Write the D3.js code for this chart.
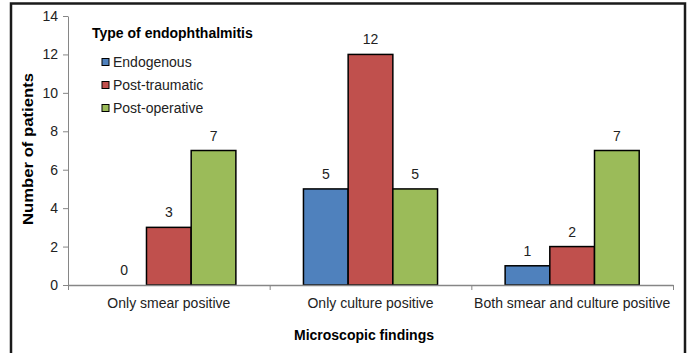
<!DOCTYPE html>
<html>
<head>
<meta charset="utf-8">
<script src="https://cdn.jsdelivr.net/npm/d3@7"></script>
<style>
  body { margin: 0; background: #fff; }
  svg { display: block; font-family: "Liberation Sans", Arial, sans-serif; }
</style>
</head>
<body>
<div id="chart"></div>
<script>
// data
var categories = ["Only smear positive", "Only culture positive", "Both smear and culture positive"];
var seriesNames = ["Endogenous", "Post-traumatic", "Post-operative"];
var endogenous = [0, 5, 1];
var postTraumatic = [3, 12, 2];
var postOperative = [7, 5, 7];
var yTicks = [0, 2, 4, 6, 8, 10, 12, 14];
var colors = ["#4f81bd", "#c0504d", "#9bbb59"];

var W = 691, H = 353;
var plot = {left: 68, right: 673, top: 16, bottom: 285};

var svg = d3.select("#chart").append("svg")
  .attr("width", W)
  .attr("height", H);

// outer frame (bottom edge is cut off in the original)
svg.append("rect")
  .attr("x", 11).attr("y", 3.5)
  .attr("width", 674).attr("height", 380)
  .attr("fill", "none")
  .attr("stroke", "#1a1a1a")
  .attr("stroke-width", 2.5);

var y = d3.scaleLinear().domain([0, 14]).range([plot.bottom, plot.top]);

var x0 = d3.scaleBand()
  .domain(categories)
  .range([plot.left, plot.right])
  .padding(0);

var x1 = d3.scaleBand()
  .domain(seriesNames)
  .range([0, x0.bandwidth()])
  .paddingInner(0)
  .paddingOuter(0.756);

var rows = categories.map(function(c, i) {
  return {cat: c, vals: [endogenous[i], postTraumatic[i], postOperative[i]]};
});

// y axis
var yAxis = svg.append("g")
  .attr("transform", "translate(" + plot.left + ",0)")
  .call(d3.axisLeft(y).tickValues(yTicks).tickSize(5).tickSizeOuter(0).tickPadding(5));
yAxis.select(".domain").attr("stroke", "#868686");
yAxis.selectAll(".tick line").attr("stroke", "#868686");
yAxis.selectAll(".tick text").attr("font-size", 14).attr("fill", "#222")
  .attr("font-family", "'Liberation Sans', Arial, sans-serif");

// bars
var groups = svg.selectAll("g.cat")
  .data(rows)
  .join("g")
  .attr("class", "cat")
  .attr("transform", d => "translate(" + x0(d.cat) + ",0)");

groups.selectAll("rect")
  .data(d => d.vals.map((v, i) => ({name: seriesNames[i], v: v, i: i})))
  .join("rect")
  .filter(d => d.v > 0)
  .attr("x", d => x1(d.name))
  .attr("y", d => y(d.v))
  .attr("width", x1.bandwidth())
  .attr("height", d => y(0) - y(d.v))
  .attr("fill", d => colors[d.i])
  .attr("stroke", "#000")
  .attr("stroke-width", 1.5);

groups.selectAll("text.val")
  .data(d => d.vals.map((v, i) => ({name: seriesNames[i], v: v, i: i})))
  .join("text")
  .attr("class", "val")
  .attr("x", d => x1(d.name) + x1.bandwidth() / 2)
  .attr("y", d => y(d.v) - 10)
  .attr("text-anchor", "middle")
  .attr("font-size", 14)
  .attr("fill", "#222")
  .text(d => d.v);

// x axis: ticks on category boundaries, labels at centers
var xb = d3.scaleLinear().domain([0, categories.length]).range([plot.left, plot.right]);
var xAxis = svg.append("g")
  .attr("transform", "translate(0," + plot.bottom + ")")
  .call(d3.axisBottom(xb).tickValues(d3.range(categories.length + 1)).tickSize(5).tickSizeOuter(0).tickFormat(""));
xAxis.select(".domain").attr("stroke", "#868686").attr("stroke-width", 1.5);
xAxis.selectAll(".tick line").attr("stroke", "#868686");

var xLabels = svg.append("g")
  .attr("transform", "translate(0," + plot.bottom + ")")
  .call(d3.axisBottom(x0).tickSize(0).tickPadding(13));
xLabels.select(".domain").remove();
xLabels.selectAll(".tick text").attr("font-size", 14).attr("fill", "#222")
  .attr("font-family", "'Liberation Sans', Arial, sans-serif");

// axis titles
svg.append("text")
  .attr("x", 364).attr("y", 340)
  .attr("text-anchor", "middle")
  .attr("font-size", 14).attr("font-weight", "bold")
  .text("Microscopic findings");

svg.append("text")
  .attr("transform", "translate(33,149) rotate(-90)")
  .attr("text-anchor", "middle")
  .attr("font-size", 14).attr("font-weight", "bold")
  .attr("textLength", 152).attr("lengthAdjust", "spacingAndGlyphs")
  .text("Number of patients");

// legend
var legend = svg.append("g").attr("transform", "translate(92,0)");
legend.append("text")
  .attr("x", 0).attr("y", 38)
  .attr("font-size", 14).attr("font-weight", "bold")
  .text("Type of endophthalmitis");

var items = legend.selectAll("g.item")
  .data(seriesNames)
  .join("g")
  .attr("class", "item")
  .attr("transform", (d, i) => "translate(0," + (62 + i * 23) + ")");
items.append("rect")
  .attr("x", 10).attr("y", -3.5)
  .attr("width", 7).attr("height", 7)
  .attr("fill", (d, i) => colors[i])
  .attr("stroke", "#000").attr("stroke-width", 1);
items.append("text")
  .attr("x", 21).attr("y", 5)
  .attr("font-size", 14).attr("fill", "#222")
  .text(d => d);
</script>
</body>
</html>
